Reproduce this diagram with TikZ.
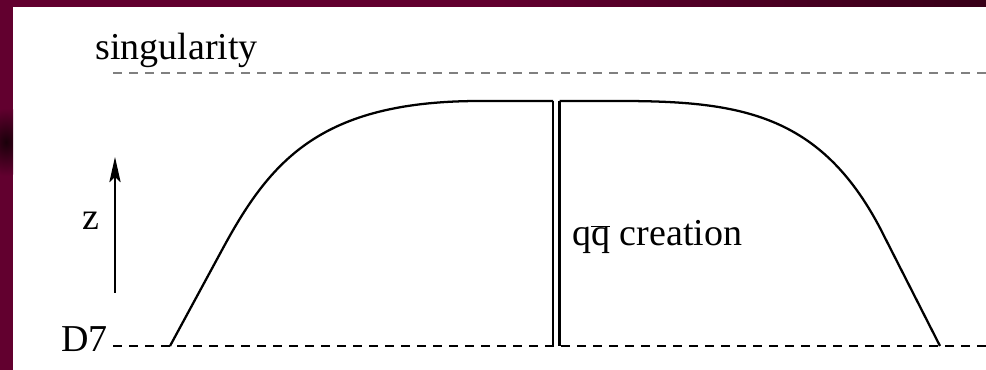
\documentclass[tikz,border=0pt]{standalone}
\usepackage{fontspec}
\setmainfont{Liberation Serif}
\usetikzlibrary{arrows.meta}
\definecolor{maroon}{HTML}{62002F}
\definecolor{darkmaroon}{HTML}{380018}
\definecolor{blob}{HTML}{1A000A}
\definecolor{singgray}{HTML}{808080}
\begin{document}
\begin{tikzpicture}[x=0.75pt,y=-0.75pt,
  lbl/.style={font=\fontsize{28.5}{34}\selectfont, inner sep=0pt, anchor=base west},
  brane/.style={line width=1pt, dash pattern=on 6.5pt off 5.5pt, draw=black},
  singline/.style={brane, draw=singgray},
  curve/.style={line width=1.7pt, line join=miter},
  wall/.style={line width=2pt},
  zarrow/.style={line width=1pt, -{Stealth[length=19pt,width=8.5pt,inset=4pt]}}]
\useasboundingbox (0,0) rectangle (986,370);
\fill[white] (0,0) rectangle (986,370);
\fill[maroon] (0,0) rectangle (13,370);
\fill[maroon] (0,0) rectangle (500,7);
\shade[left color=maroon,right color=darkmaroon] (499,0) rectangle (986,7);
\begin{scope}
\clip (0,100) rectangle (13,185);
\shade[inner color=blob, outer color=maroon] (6,142) ellipse [x radius=26, y radius=34];
\end{scope}

% labels
\node[lbl] (sing) at (95,60) {singularity};
\node[lbl] (z) at (82,230) {z};
\node[lbl] (d7) at (61,352) {D7};
\node[lbl] (qq) at (572,246) {q$\overline{\hbox{q}}$ creation};

% reference lines
\coordinate (sl) at (113,73);
\coordinate (sr) at (986,73);
\coordinate (bl) at (113,346);
\coordinate (br) at (986,346);
\draw[singline] (sl) -- (sr);
\draw[brane] (bl) -- (br);

% z axis arrow
\coordinate (zb) at (115,293);
\coordinate (zt) at (115,157);
\draw[zarrow] (zb) -- (zt);

% left string
\coordinate (l0) at (170,346);
\coordinate (l1) at (222,250);
\coordinate (l2) at (480,101);
\coordinate (ltop) at (553,101);
\coordinate (lbot) at (553,346);
\draw[curve] (l0) -- (l1) .. controls (270,161) and (320,101) .. (l2) -- (ltop);
\draw[wall] (ltop) -- (lbot);

% right string
\coordinate (rbot) at (559.5,346);
\coordinate (rtop) at (559.5,101);
\coordinate (r1) at (620,101);
\coordinate (r2) at (880,228);
\coordinate (r3) at (940,346);
\draw[wall] (rbot) -- (rtop);
\draw[curve] (rtop) -- (r1) .. controls (740,101) and (820,114) .. (r2) -- (r3);
\end{tikzpicture}
\end{document}
